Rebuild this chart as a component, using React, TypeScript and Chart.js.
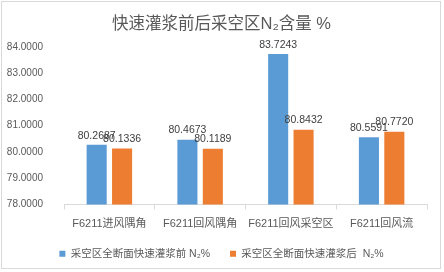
import React, { useEffect, useRef } from "react";
import { Chart, registerables } from "chart.js";

Chart.register(...registerables);

const categories = ["F6211进风隅角", "F6211回风隅角", "F6211回风采空区", "F6211回风流"];
const beforeValues = [80.2687, 80.4673, 83.7243, 80.5591];
const afterValues = [80.1336, 80.1189, 80.8432, 80.772];
const seriesNames = ["采空区全断面快速灌浆前 N₂%", "采空区全断面快速灌浆后  N₂%"];
const titleText = "快速灌浆前后采空区N₂含量 %";
const yMin = 78;
const yMax = 84;

const FONT = "'Liberation Sans', 'Noto Sans CJK SC', sans-serif";

const valueLabels = {
  id: "valueLabels",
  afterDatasetsDraw(chart: any) {
    const ctx = chart.ctx;
    ctx.save();
    ctx.font = `10.5px ${FONT}`;
    ctx.fillStyle = "#404040";
    ctx.textAlign = "center";
    ctx.textBaseline = "bottom";
    chart.data.datasets.forEach((ds: any, i: number) => {
      const meta = chart.getDatasetMeta(i);
      meta.data.forEach((el: any, j: number) => {
        ctx.fillText(Number(ds.data[j]).toFixed(4), el.x, el.y - 4);
      });
    });
    ctx.restore();
  },
};

// nudge title and legend horizontally to centre them on the full frame
const shiftBoxes = {
  id: "shiftBoxes",
  afterLayout(chart: any) {
    const lg = chart.legend;
    if (lg) {
      lg.left += 7;
      lg.right += 7;
    }
    const tb = chart.titleBlock;
    if (tb) {
      tb.left += 7;
      tb.right += 7;
    }
  },
};

export default function App() {
  const ref = useRef<HTMLCanvasElement>(null);
  useEffect(() => {
    document.body.style.margin = "0";
    const chart = new Chart(ref.current!, {
      type: "bar",
      data: {
        labels: categories,
        datasets: [
          {
            label: seriesNames[0],
            data: beforeValues,
            backgroundColor: "#5B9BD5",
            categoryPercentage: 0.56,
            barPercentage: 0.79,
          },
          {
            label: seriesNames[1],
            data: afterValues,
            backgroundColor: "#ED7D31",
            categoryPercentage: 0.56,
            barPercentage: 0.79,
          },
        ],
      },
      options: {
        animation: false,
        responsive: false,
        layout: { padding: { left: 0, right: 13, top: 0, bottom: 0 } },
        plugins: {
          title: {
            display: true,
            text: titleText,
            color: "#595959",
            font: { family: FONT, size: 16.5, weight: "normal" },
            padding: { top: 13, bottom: 12 },
          },
          legend: {
            position: "bottom",
            labels: {
              color: "#595959",
              font: { family: FONT, size: 10.5 },
              boxWidth: 6,
              boxHeight: 6,
              padding: 20,
            },
          },
          tooltip: { enabled: false },
        },
        scales: {
          x: {
            grid: {
              display: true,
              drawOnChartArea: false,
              drawTicks: true,
              tickLength: 5,
              color: "#d9d9d9",
            },
            border: { color: "#d9d9d9" },
            ticks: {
              color: "#595959",
              font: { family: FONT, size: 11 },
              padding: 8,
              maxRotation: 0,
              autoSkip: false,
            },
            afterFit(scale: any) {
              scale.height = 24;
            },
          },
          y: {
            min: yMin,
            max: yMax,
            grid: { display: false },
            border: { display: false },
            ticks: {
              stepSize: 1,
              color: "#595959",
              font: { family: FONT, size: 10 },
              padding: 13,
              callback: (v: any) => Number(v).toFixed(4),
            },
            afterFit(scale: any) {
              scale.width = 62;
            },
          },
        },
      },
      plugins: [valueLabels, shiftBoxes],
    });
    return () => chart.destroy();
  }, []);
  return (
    <div
      style={{
        position: "absolute",
        left: 1,
        top: 1,
        width: 440,
        height: 268,
        border: "1px solid #d9d9d9",
        boxSizing: "border-box",
        background: "#fff",
        overflow: "hidden",
      }}
    >
      <canvas ref={ref} width={438} height={267} style={{ display: "block" }} />
    </div>
  );
}
